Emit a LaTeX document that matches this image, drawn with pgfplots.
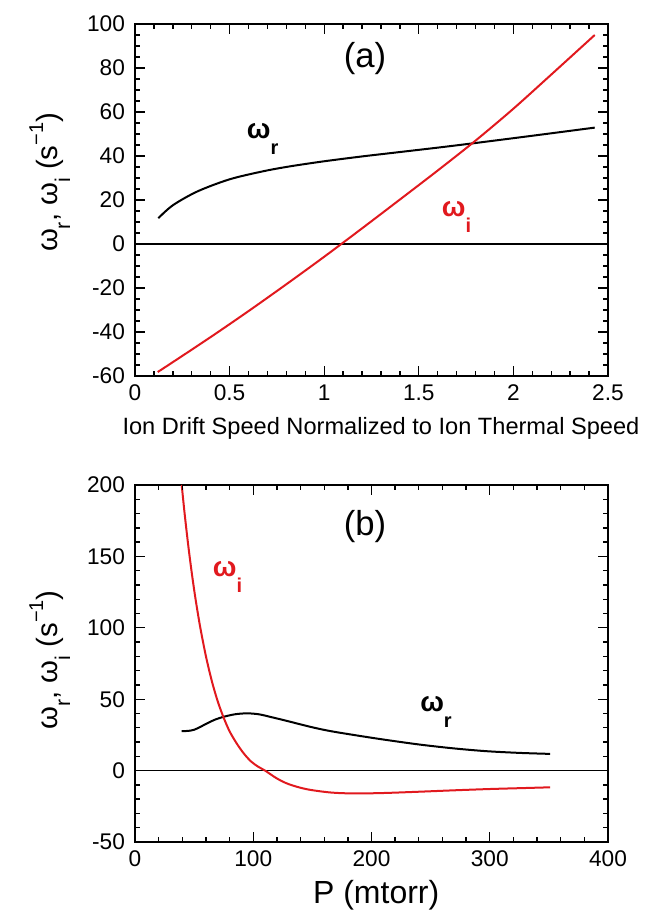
\documentclass[border=0pt]{standalone}
\usepackage{fontspec}
\setmainfont{Liberation Sans}
\usepackage{pgfplots}
\pgfplotsset{compat=1.18}

\definecolor{wred}{RGB}{225,25,30}

% text sizes
\newcommand{\tickfont}{\fontsize{17}{17}\selectfont}
\newcommand{\labfont}{\fontsize{22}{22}\selectfont}
\newcommand{\sublab}[1]{\raisebox{-0.42em}{\fontsize{16}{16}\selectfont #1}}
\newcommand{\supl}[1]{\raisebox{0.5em}{\fontsize{15}{15}\selectfont #1}}
% curve tags: bold omega with a low subscript
\newcommand{\wtag}[1]{{\fontsize{21}{21}\selectfont\bfseries ω}\raisebox{-12pt}{\fontsize{15}{15}\selectfont\bfseries #1}}
\newcommand{\ylab}{ω\sublab{r}, ω\sublab{i} (s\supl{−1})}

% inward tick marks on all four sides:
% #1 = x subdivisions, #2 = x subdivisions per major,
% #3 = y subdivisions, #4 = y subdivisions per major
\newcommand{\boxticks}[4]{%
  \pgfmathtruncatemacro\nx{#1-1}%
  \foreach \k in {1,...,\nx} {%
    \pgfmathsetmacro\f{\k/#1}%
    \pgfmathsetmacro\len{mod(\k,#2)==0 ? 7.5 : 3.75}%
    \draw[black, line width=1pt] (rel axis cs:\f,0) -- ++(0pt,\len pt);
    \draw[black, line width=1pt] (rel axis cs:\f,1) -- ++(0pt,-\len pt);
  }%
  \pgfmathtruncatemacro\ny{#3-1}%
  \foreach \k in {1,...,\ny} {%
    \pgfmathsetmacro\f{\k/#3}%
    \pgfmathsetmacro\len{mod(\k,#4)==0 ? 7.5 : 3.75}%
    \draw[black, line width=1pt] (rel axis cs:0,\f) -- ++(\len pt,0pt);
    \draw[black, line width=1pt] (rel axis cs:1,\f) -- ++(-\len pt,0pt);
  }%
}

\pgfplotsset{
  panel/.style={
    scale only axis,
    width=354.75pt,
    anchor=south west,
    axis line style={line width=1.3pt},
    major tick length=7.5pt,
    minor tick length=3.75pt,
    tick style={black, line width=1pt},
    x tick label style={font=\tickfont, yshift=-3pt},
    y tick label style={font=\tickfont, xshift=-4pt},
    ylabel style={font=\labfont, anchor=center},
  },
}

\begin{document}
\begin{tikzpicture}
% page frame
\path (0,0) rectangle (483pt,687.75pt);

% (a) growth rate and real frequency versus normalized drift speed
\begin{axis}[panel,
  at={(101.25pt,405.75pt)},
  height=264pt,
  xmin=0, xmax=2.5, ymin=-60, ymax=100,
  xtick={0,0.5,1,1.5,2,2.5},
  xticklabels={0,0.5,1,1.5,2,2.5},
  minor x tick num=4,
  ytick={-60,-40,-20,0,20,40,60,80,100},
  yticklabels={-60,-40,-20,0,20,40,60,80,100},
  minor y tick num=3,
  xlabel={Ion Drift Speed Normalized to Ion Thermal Speed},
  xlabel style={font=\fontsize{17.7}{17.7}\selectfont, at={(axis description cs:0.52,-0.148)}, anchor=center},
  ylabel={\ylab},
  ylabel style={at={(axis description cs:-0.18,0.55)}},
  extra description/.code={\boxticks{25}{5}{32}{4}},
]
\addplot[black, line width=1.2pt] coordinates {(0,0) (2.5,0)};
\addplot[black, line width=1.5pt, smooth] coordinates {
  (0.123,11.7) (0.2,17.6) (0.33,23.9) (0.5,29.4) (0.68,33.1) (0.82,35.3)
  (1.0,37.6) (1.2,39.8) (1.33,41.1) (1.6,43.8) (1.79,45.8) (2.1,49.2) (2.43,52.9)
};
\addplot[wred, line width=1.5pt, smooth] coordinates {
  (0.12,-58.2) (0.2,-53.7) (0.4,-42.3) (0.6,-30.5) (0.8,-18.3) (1.0,-5.8)
  (1.2,7.1) (1.4,20.2) (1.6,33.4) (1.8,47.0) (2.0,61.5) (2.2,77.0) (2.43,95.0)
};
\node[font=\fontsize{26}{26}\selectfont] at (axis cs:1.216,84.4) {(a)};
\node[anchor=base west, inner sep=0pt] at (axis cs:0.59,48.0) {\wtag{r}};
\node[anchor=base west, inner sep=0pt, text=wred] at (axis cs:1.621,12.4) {\wtag{i}};
\end{axis}

% (b) the same two rates versus neutral pressure
\begin{axis}[panel,
  at={(101.25pt,56.25pt)},
  height=267.75pt,
  xmin=0, xmax=400, ymin=-50, ymax=200,
  xtick={0,100,200,300,400},
  xticklabels={0,100,200,300,400},
  minor x tick num=4,
  ytick={-50,0,50,100,150,200},
  yticklabels={-50,0,50,100,150,200},
  minor y tick num=4,
  xlabel={P (mtorr)},
  xlabel style={font=\fontsize{24}{24}\selectfont, at={(axis description cs:0.51,-0.148)}, anchor=center},
  ylabel={\ylab},
  ylabel style={at={(axis description cs:-0.18,0.51)}},
  extra description/.code={\boxticks{20}{5}{25}{5}},
]
\addplot[black, line width=1.2pt] coordinates {(0,0) (400,0)};
\addplot[black, line width=1.5pt, smooth] coordinates {
  (39.5,27.7) (45,27.8) (50,28.6) (55,30.5) (61,33.1) (68,35.8) (75.5,37.8)
  (85,39.5) (95,40.1) (105,39.4) (115,37.5) (128,34.9) (148,30.7) (165,27.7)
  (190,24.3) (213,21.4) (241,18.2) (269,15.6) (297,13.6) (325,12.4) (351,11.7)
};
\addplot[wred, line width=1.5pt, smooth] coordinates {
  (39.5,200) (42,179.7) (45,157.9) (48,138.5) (51,121.2) (55,101.1) (60,80.0)
  (65,62.6) (70,48.4) (75,37.0) (80,27.5) (86,19.0) (92,12.0) (98,6.5)
  (104,2.8) (110,0) (120,-5.5) (130,-9.5) (145,-13) (165,-15.3) (185,-16)
  (210,-15.7) (240,-14.8) (270,-13.8) (300,-12.9) (330,-12.2) (351,-11.7)
};
\node[font=\fontsize{26}{26}\selectfont] at (axis cs:194.5,170.8) {(b)};
\node[anchor=base west, inner sep=0pt, text=wred] at (axis cs:65.7,135.8) {\wtag{i}};
\node[anchor=base west, inner sep=0pt] at (axis cs:241,41.2) {\wtag{r}};
\end{axis}
\end{tikzpicture}
\end{document}
